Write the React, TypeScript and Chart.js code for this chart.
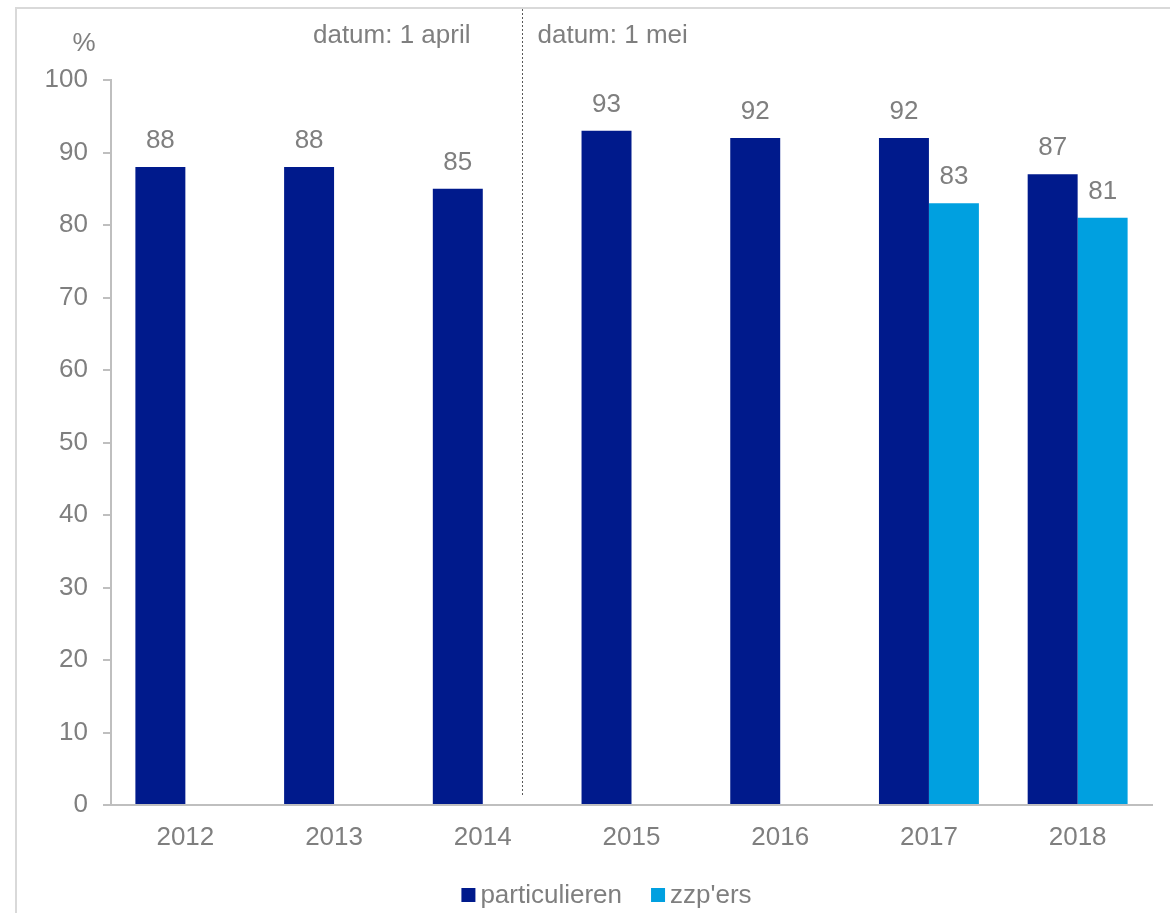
import { useEffect, useRef } from "react";
import { Chart, registerables } from "chart.js";

Chart.register(...registerables);

// Survey years and the share (%) per group
const years = ["2012", "2013", "2014", "2015", "2016", "2017", "2018"];
const particulieren = [88, 88, 85, 93, 92, 92, 87];
const zzpers = [null, null, null, null, null, 83, 81];

const seriesNames = ["particulieren", "zzp'ers"];
const seriesColors = ["#001A8C", "#00A0E0"];

const yMin = 0;
const yMax = 100;
const yStep = 10;
const yUnit = "%";

// Reference-date notes on both sides of the methodology break (between 2014 and 2015)
const noteBefore = "datum: 1 april";
const noteAfter = "datum: 1 mei";
const breakAtIndex = 2.265;

const FONT = '"Liberation Sans", Arial, Helvetica, sans-serif';
const TEXT = "#7F7F7F";
const AXIS = "#BFBFBF";
const FRAME = "#D9D9D9";
const FONT_SIZE = 26;

const framePlugin = {
  id: "frame",
  beforeDraw(chart: any) {
    const { ctx, width, height } = chart;
    ctx.save();
    ctx.fillStyle = "#FFFFFF";
    ctx.fillRect(0, 0, width, height);
    ctx.strokeStyle = FRAME;
    ctx.lineWidth = 2;
    ctx.beginPath();
    ctx.moveTo(16, height);
    ctx.lineTo(16, 8);
    ctx.lineTo(width, 8);
    ctx.stroke();
    ctx.restore();
  },
};

const valueLabelPlugin = {
  id: "valueLabels",
  afterDatasetsDraw(chart: any) {
    const { ctx } = chart;
    ctx.save();
    ctx.font = `${FONT_SIZE}px ${FONT}`;
    ctx.fillStyle = TEXT;
    ctx.textAlign = "center";
    ctx.textBaseline = "alphabetic";
    chart.data.datasets.forEach((ds: any, di: number) => {
      const meta = chart.getDatasetMeta(di);
      meta.data.forEach((bar: any, i: number) => {
        const v = ds.data[i];
        if (v === null || v === undefined) return;
        ctx.fillText(String(v), bar.x, bar.y - 19);
      });
    });
    ctx.restore();
  },
};

const notesPlugin = {
  id: "notes",
  afterDraw(chart: any) {
    const { ctx, chartArea } = chart;
    const xs = chart.scales.x;
    const divX = Math.round(xs.getPixelForValue(breakAtIndex)) + 0.5;
    ctx.save();
    // dotted break line
    ctx.strokeStyle = "#595959";
    ctx.lineWidth = 1;
    ctx.setLineDash([2, 2]);
    ctx.beginPath();
    ctx.moveTo(divX, 9);
    ctx.lineTo(divX, chartArea.bottom - 10);
    ctx.stroke();
    ctx.setLineDash([]);

    ctx.font = `${FONT_SIZE}px ${FONT}`;
    ctx.fillStyle = TEXT;
    ctx.textBaseline = "alphabetic";
    ctx.textAlign = "right";
    ctx.fillText(noteBefore, divX - 52, 43);
    ctx.textAlign = "left";
    ctx.fillText(noteAfter, divX + 15, 43);

    // unit above the value axis
    ctx.textAlign = "center";
    ctx.fillText(yUnit, chartArea.left - 27, 51);
    ctx.restore();
  },
};

const legendPlugin = {
  id: "bottomLegend",
  afterDraw(chart: any) {
    const { ctx, chartArea, height } = chart;
    ctx.save();
    ctx.font = `${FONT_SIZE}px ${FONT}`;
    const box = 14;
    const gap = 5;
    const spacing = 29;
    const items = chart.data.datasets.map((d: any) => ({
      label: d.label as string,
      color: d.backgroundColor as string,
      w: ctx.measureText(d.label).width,
    }));
    const total =
      items.reduce((s: number, it: any) => s + box + gap + it.w, 0) +
      spacing * (items.length - 1);
    let x = (chartArea.left + chartArea.right) / 2 - 25 - total / 2;
    const boxTop = height - 25;
    ctx.textAlign = "left";
    ctx.textBaseline = "alphabetic";
    items.forEach((it: any) => {
      ctx.fillStyle = it.color;
      ctx.fillRect(x, boxTop, box, box);
      ctx.fillStyle = TEXT;
      ctx.fillText(it.label, x + box + gap, boxTop + box + 1);
      x += box + gap + it.w + spacing;
    });
    ctx.restore();
  },
};

export default function App() {
  const ref = useRef<HTMLCanvasElement | null>(null);

  useEffect(() => {
    if (!ref.current) return;
    const chart = new Chart(ref.current, {
      type: "bar",
      data: {
        labels: years,
        datasets: [
          {
            label: seriesNames[0],
            data: particulieren,
            backgroundColor: seriesColors[0],
            categoryPercentage: 0.672,
            barPercentage: 1,
          },
          {
            label: seriesNames[1],
            data: zzpers as any,
            backgroundColor: seriesColors[1],
            categoryPercentage: 0.672,
            barPercentage: 1,
          },
        ],
      },
      options: {
        animation: false,
        responsive: false,
        devicePixelRatio: 1,
        layout: { padding: { top: 80, left: 0, right: 18, bottom: 48 } },
        plugins: {
          legend: { display: false },
          tooltip: { enabled: false },
        },
        scales: {
          x: {
            grid: { display: false },
            border: { display: true, color: AXIS, width: 2 },
            ticks: {
              color: TEXT,
              font: { family: FONT, size: FONT_SIZE },
              padding: 9,
            },
            afterFit(s: any) {
              s.height = 60;
            },
          },
          y: {
            min: yMin,
            max: yMax,
            grid: {
              display: true,
              drawOnChartArea: false,
              drawTicks: true,
              tickLength: 8,
              color: AXIS,
              lineWidth: 2,
            },
            border: { display: true, color: AXIS, width: 2 },
            ticks: {
              stepSize: yStep,
              color: TEXT,
              font: { family: FONT, size: FONT_SIZE },
              padding: 15,
            },
            afterFit(s: any) {
              s.width = 111;
            },
          },
        },
      },
      plugins: [framePlugin, valueLabelPlugin, notesPlugin, legendPlugin],
    });
    return () => chart.destroy();
  }, []);

  return (
    <div style={{ position: "fixed", left: 0, top: 0, width: 1170, height: 913 }}>
      <canvas ref={ref} width={1170} height={913} />
    </div>
  );
}
